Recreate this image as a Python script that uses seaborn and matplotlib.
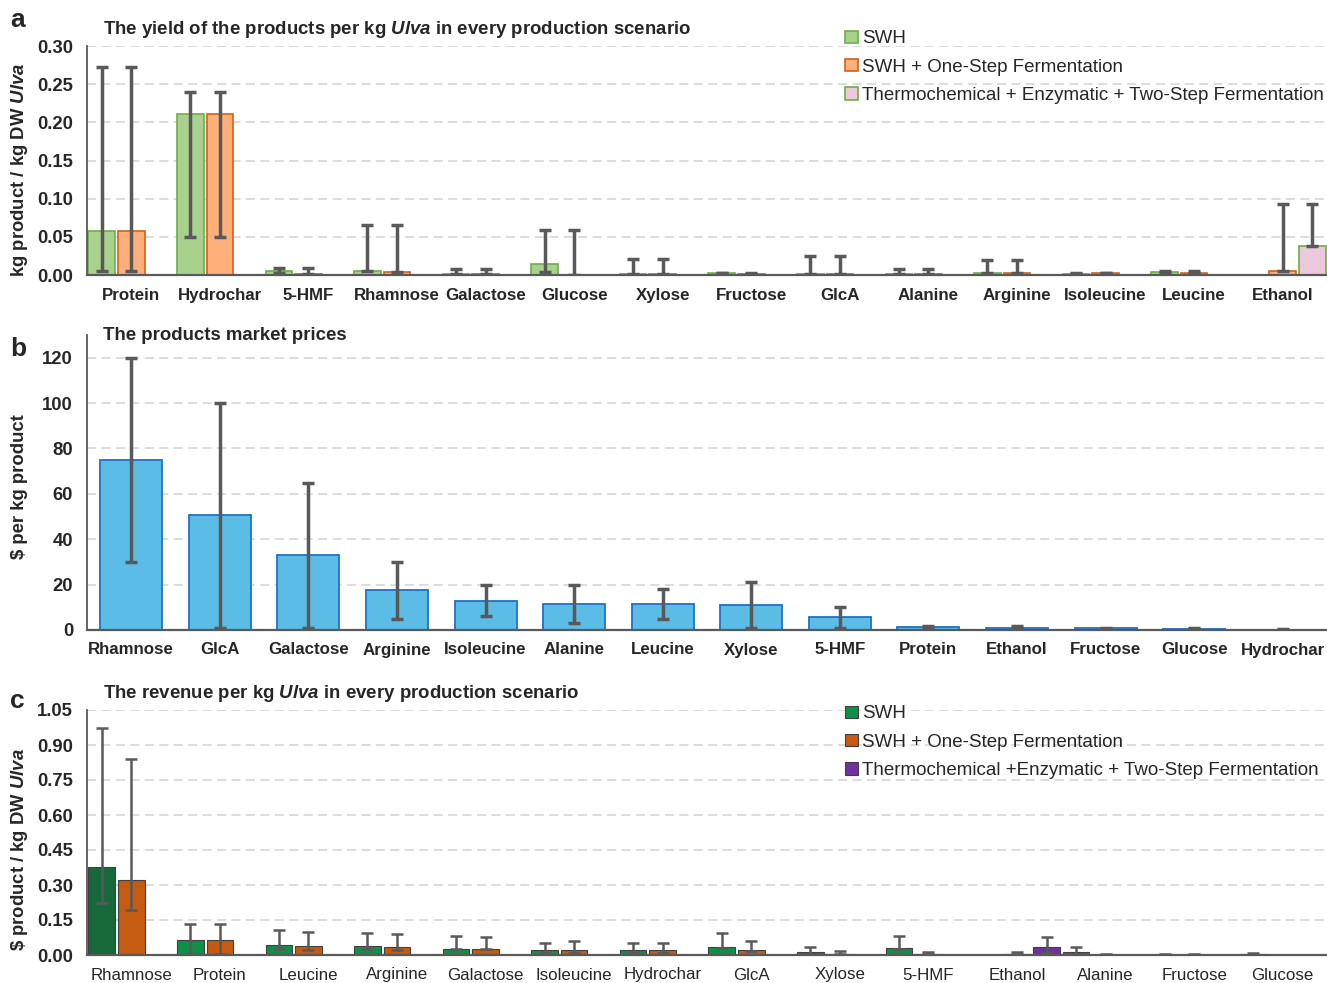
import numpy as np
import pandas as pd
import matplotlib
matplotlib.use("Agg")
import matplotlib.pyplot as plt
from matplotlib.patches import Patch
import seaborn as sns

sns.set_style("white")
plt.rcParams["font.family"] = ["Liberation Sans", "DejaVu Sans"]
plt.rcParams["mathtext.fontset"] = "custom"
plt.rcParams["mathtext.rm"] = "Liberation Sans"
plt.rcParams["mathtext.bf"] = "Liberation Sans:bold"
plt.rcParams["mathtext.it"] = "Liberation Sans:italic"
plt.rcParams["mathtext.bfit"] = "Liberation Sans:italic:bold"

nan = np.nan
scenarios = ["SWH", "SWH + One-Step Fermentation",
             "Thermochemical + Enzymatic + Two-Step Fermentation"]
scenarios_c = ["SWH", "SWH + One-Step Fermentation",
               "Thermochemical +Enzymatic + Two-Step Fermentation"]

# (a) yield, kg product / kg DW Ulva
yield_products = ["Protein", "Hydrochar", "5-HMF", "Rhamnose", "Galactose", "Glucose",
                  "Xylose", "Fructose", "GlcA", "Alanine", "Arginine", "Isoleucine",
                  "Leucine", "Ethanol"]
yield_swh = [0.058, 0.211, 0.005, 0.005, 0.001, 0.014, 0.001, 0.002, 0.001, 0.001, 0.002, 0.001, 0.004, nan]
yield_swh_lo = [0.005, 0.05, 0.002, 0.005, 0.001, 0.004, 0.001, 0.002, 0.001, 0.001, 0.002, 0.001, 0.003, nan]
yield_swh_hi = [0.272, 0.24, 0.009, 0.065, 0.008, 0.059, 0.021, 0.003, 0.025, 0.008, 0.020, 0.003, 0.005, nan]
yield_osf = [0.058, 0.211, 0.001, 0.004, 0.001, 0.0, 0.001, 0.001, 0.001, 0.001, 0.002, 0.002, 0.003, 0.005]
yield_osf_lo = [0.005, 0.05, 0.001, 0.004, 0.001, 0.0, 0.001, 0.001, 0.001, 0.001, 0.002, 0.002, 0.003, 0.005]
yield_osf_hi = [0.272, 0.24, 0.009, 0.065, 0.008, 0.059, 0.021, 0.003, 0.025, 0.008, 0.020, 0.003, 0.005, 0.093]
yield_tsf = [nan] * 13 + [0.038]
yield_tsf_lo = [nan] * 13 + [0.038]
yield_tsf_hi = [nan] * 13 + [0.093]

# (b) market price, $ per kg product
price_products = ["Rhamnose", "GlcA", "Galactose", "Arginine", "Isoleucine", "Alanine",
                  "Leucine", "Xylose", "5-HMF", "Protein", "Ethanol", "Fructose",
                  "Glucose", "Hydrochar"]
price = [75, 50.5, 33, 17.6, 13, 11.5, 11.5, 11, 5.6, 1.2, 1.0, 0.7, 0.5, 0.1]
price_lo = [30, 1, 1, 5, 6, 3, 5, 1, 1, 1.0, 0.8, 0.5, 0.3, 0.05]
price_hi = [120, 100, 65, 30, 20, 20, 18, 21, 10, 1.8, 1.6, 0.9, 0.7, 0.3]

# (c) revenue, $ product / kg DW Ulva
rev_products = ["Rhamnose", "Protein", "Leucine", "Arginine", "Galactose", "Isoleucine",
                "Hydrochar", "GlcA", "Xylose", "5-HMF", "Ethanol", "Alanine",
                "Fructose", "Glucose"]
rev_swh = [0.376, 0.064, 0.044, 0.037, 0.027, 0.020, 0.020, 0.033, 0.013, 0.030, 0.0005, 0.0115, 0.002, 0.004]
rev_swh_lo = [0.225, 0.005, 0.024, 0.025, 0.025, 0.010, 0.010, 0.030, 0.005, 0.025, nan, 0.005, 0.001, 0.002]
rev_swh_hi = [0.975, 0.131, 0.107, 0.095, 0.080, 0.053, 0.053, 0.094, 0.034, 0.083, nan, 0.033, 0.003, 0.010]
rev_osf = [0.323, 0.064, 0.038, 0.034, 0.027, 0.023, 0.020, 0.021, 0.005, 0.005, 0.005, 0.002, 0.002, 0.0015]
rev_osf_lo = [0.194, 0.005, 0.022, 0.022, 0.025, 0.010, 0.010, 0.018, 0.003, 0.004, 0.004, 0.001, 0.001, 0.001]
rev_osf_hi = [0.840, 0.131, 0.098, 0.090, 0.078, 0.060, 0.053, 0.061, 0.017, 0.014, 0.012, 0.004, 0.003, 0.002]
rev_tsf = [nan] * 10 + [0.033] + [nan] * 3
rev_tsf_lo = [nan] * 10 + [0.014] + [nan] * 3
rev_tsf_hi = [nan] * 10 + [0.079] + [nan] * 3

ERR = "#595959"
GRID = "#D9D9D9"

W, H = 1327, 983
fig = plt.figure(figsize=(W / 100, H / 100), dpi=100)


def px_axes(left, top, right, bottom):
    return fig.add_axes([left / W, 1 - bottom / H, (right - left) / W, (bottom - top) / H])


def long_frame(products, series, names):
    rows = []
    for name, (vals, lo, hi) in zip(names, series):
        for p, v, l, h in zip(products, vals, lo, hi):
            if not np.isnan(v):
                rows.append({"product": p, "scenario": name, "value": v, "lo": l, "hi": h})
    return pd.DataFrame(rows)


def style_axis(ax, ymax, ytop, step, fmt, xbold, ytick_size=13.3):
    ax.set_ylim(0, ytop)
    ax.set_xlim(-0.5, 13.5)
    ticks = np.arange(0, ymax + step / 2, step)
    ax.set_yticks(ticks)
    ax.set_yticklabels([fmt.format(t) for t in ticks], fontsize=ytick_size, fontweight="bold")
    for lab in ax.get_xticklabels():
        lab.set_fontsize(12.2)
        lab.set_fontweight("bold" if xbold else "normal")
    for t in ticks[1:]:
        ax.axhline(t, color=GRID, lw=1.3, ls=(0, (5, 3)), zorder=0)
    ax.set_xlabel("")
    ax.set_ylabel("")
    for s in ["top", "right"]:
        ax.spines[s].set_visible(False)
    ax.spines["left"].set_color(ERR)
    ax.spines["bottom"].set_color(ERR)
    ax.spines["left"].set_linewidth(1.3)
    ax.spines["bottom"].set_linewidth(1.6)
    ax.tick_params(axis="y", length=5, width=1.2, color=ERR, pad=5)
    ax.tick_params(axis="x", length=0, pad=9)


def add_errors(ax, df, order, hue_order, lw, cap):
    for hue, cont in zip(hue_order, ax.containers):
        sub = df[df["scenario"] == hue].set_index("product")
        for bar in cont:
            xc = bar.get_x() + bar.get_width() / 2
            prod = order[int(round(xc))]
            if prod not in sub.index:
                continue
            r = sub.loc[prod]
            if np.isnan(r["lo"]):
                continue
            v = r["value"]
            ax.errorbar(xc, v, yerr=[[max(v - r["lo"], 0)], [max(r["hi"] - v, 0)]],
                        fmt="none", ecolor=ERR, elinewidth=lw, capsize=cap,
                        capthick=lw, zorder=5)


# ---------------- panel a ----------------
ax_a = px_axes(87, 46, 1327, 275)
df_a = long_frame(yield_products,
                  [(yield_swh, yield_swh_lo, yield_swh_hi),
                   (yield_osf, yield_osf_lo, yield_osf_hi),
                   (yield_tsf, yield_tsf_lo, yield_tsf_hi)], scenarios)
fill_a = ["#A9D18E", "#FFB07A", "#EBC8DC"]
edge_a = ["#70AD47", "#D0621A", "#70AD47"]
sns.barplot(data=df_a, x="product", y="value", hue="scenario", order=yield_products,
            hue_order=scenarios, palette=fill_a, width=1.0, gap=0.1, saturation=1,
            errorbar=None, legend=False, ax=ax_a, zorder=2)
for cont, ec in zip(ax_a.containers, edge_a):
    for bar in cont:
        bar.set_edgecolor(ec)
        bar.set_linewidth(1.2)
add_errors(ax_a, df_a, yield_products, scenarios, 2.5, 4)
style_axis(ax_a, 0.30, 0.30, 0.05, "{:.2f}", True)
ax_a.legend(handles=[Patch(facecolor=f, edgecolor=e, lw=1.2) for f, e in zip(fill_a, edge_a)],
            labels=scenarios, loc="upper left", bbox_to_anchor=(836 / W, 1 - 21 / H),
            bbox_transform=fig.transFigure, frameon=False, fontsize=13.5,
            handlelength=0.65, handleheight=0.65, handletextpad=0.25, labelspacing=0.6,
            borderpad=0)

# ---------------- panel b ----------------
ax_b = px_axes(87, 335, 1327, 630)
df_b = pd.DataFrame({"product": price_products, "value": price, "lo": price_lo, "hi": price_hi})
sns.barplot(data=df_b, x="product", y="value", order=price_products, color="#5BBCE6",
            width=0.7, errorbar=None, ax=ax_b, zorder=2, saturation=1)
for bar in ax_b.containers[0]:
    bar.set_edgecolor("#1F71C6")
    bar.set_linewidth(1.3)
for bar in ax_b.containers[0]:
    xc = bar.get_x() + bar.get_width() / 2
    r = df_b.iloc[int(round(xc))]
    ax_b.errorbar(xc, r["value"], yerr=[[r["value"] - r["lo"]], [r["hi"] - r["value"]]],
                  fmt="none", ecolor=ERR, elinewidth=2.5, capsize=4, capthick=2.5, zorder=5)
style_axis(ax_b, 120, 130, 20, "{:.0f}", True, ytick_size=13.3)

# ---------------- panel c ----------------
ax_c = px_axes(87, 710, 1327, 955)
df_c = long_frame(rev_products,
                  [(rev_swh, rev_swh_lo, rev_swh_hi),
                   (rev_osf, rev_osf_lo, rev_osf_hi),
                   (rev_tsf, rev_tsf_lo, rev_tsf_hi)], scenarios_c)
fill_c = ["#0E9046", "#C55A11", "#7030A0"]
sns.barplot(data=df_c, x="product", y="value", hue="scenario", order=rev_products,
            hue_order=scenarios_c, palette=fill_c, width=1.0, gap=0.1, saturation=1,
            errorbar=None, legend=False, ax=ax_c, zorder=2)
for cont in ax_c.containers:
    for bar in cont:
        bar.set_edgecolor("#404040")
        bar.set_linewidth(0.8)
# the leading SWH bar is drawn in a deeper green
ax_c.containers[0][0].set_facecolor("#17693A")
add_errors(ax_c, df_c, rev_products, scenarios_c, 1.8, 4)
style_axis(ax_c, 1.05, 1.05, 0.15, "{:.2f}", False)
ax_c.legend(handles=[Patch(facecolor=f, edgecolor="#404040", lw=0.8) for f in fill_c],
            labels=scenarios_c, loc="upper left", bbox_to_anchor=(836 / W, 1 - 696 / H),
            bbox_transform=fig.transFigure, frameon=False, fontsize=13.5,
            handlelength=0.65, handleheight=0.65, handletextpad=0.25, labelspacing=0.6,
            borderpad=0)

# ---------------- titles, letters, axis labels ----------------
fig.text(103 / W, 1 - 30 / H, r"The yield of the products per kg $\mathbfit{Ulva}$ in every production scenario",
         ha="left", va="center", fontsize=13.4, fontweight="bold")
fig.text(103 / W, 1 - 335 / H, "The products market prices",
         ha="left", va="center", fontsize=13.4, fontweight="bold")
fig.text(103 / W, 1 - 693 / H, r"The revenue per kg $\mathbfit{Ulva}$ in every production scenario",
         ha="left", va="center", fontsize=13.4, fontweight="bold")

for letter, y in [("a", 20), ("b", 349), ("c", 701)]:
    fig.text(10 / W, 1 - y / H, letter, ha="left", va="center", fontsize=19, fontweight="bold")

fig.text(20 / W, 1 - 170 / H, r"kg product / kg DW $\mathbfit{Ulva}$", rotation=90,
         ha="center", va="center", fontsize=13.3, fontweight="bold")
fig.text(20 / W, 1 - 487 / H, r"\$ per kg product", rotation=90,
         ha="center", va="center", fontsize=13.3, fontweight="bold")
fig.text(20 / W, 1 - 850 / H, r"\$ product / kg DW $\mathbfit{Ulva}$", rotation=90,
         ha="center", va="center", fontsize=13.3, fontweight="bold")

fig.savefig("out.png", dpi=100)
